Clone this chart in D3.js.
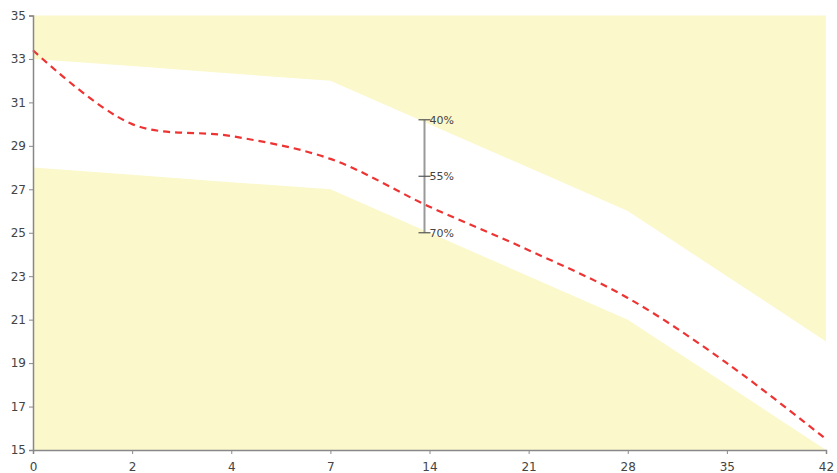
<!DOCTYPE html>
<html>
<head>
<meta charset="utf-8">
<script src="https://cdn.jsdelivr.net/npm/d3@7"></script>
<style>
  html, body { margin: 0; padding: 0; background: #fff; }
  svg { display: block; }
  text { font-family: "DejaVu Sans", Verdana, sans-serif; }
</style>
</head>
<body>
<svg id="chart" width="837" height="473"></svg>
<script>
const categories = ["0", "2", "4", "7", "14", "21", "28", "35", "42"];
const upperBand = [33, 32.67, 32.33, 32, 30, 28, 26, 23, 20];
const lowerBand = [28, 27.67, 27.33, 27, 25, 23, 21, 18, 15];
const redLine   = [33.4, 30.0, 29.45, 28.4, 26.2, 24.2, 22.0, 19.0, 15.5];
const yTicks = [15, 17, 19, 21, 23, 25, 27, 29, 31, 33, 35];
const barCategory = "14";
const barPoints = [30.2, 27.6, 25.0];
const barLabels = ["40%", "55%", "70%"];

(function () {
const svg = d3.select("#chart");
const mLeft = 33, mRight = 826, mTop = 15.5, mBottom = 450;
const x = d3.scalePoint().domain(categories).range([mLeft, mRight]);
const y = d3.scaleLinear().domain([15, 35]).range([mBottom, mTop]);
const font = "'DejaVu Sans', Verdana, sans-serif";

const yellow = "#FBF8CB";
svg.append("rect").attr("x", mLeft).attr("y", mTop)
  .attr("width", mRight - mLeft).attr("height", mBottom - mTop).attr("fill", yellow);

const band = d3.area()
  .x((d, i) => x(categories[i]))
  .y0((d, i) => y(lowerBand[i]))
  .y1((d, i) => y(upperBand[i]));
svg.append("path").datum(upperBand).attr("d", band).attr("fill", "#fff");

const line = d3.line()
  .x((d, i) => x(categories[i]))
  .y(d => y(d))
  .curve(d3.curveCatmullRom.alpha(0.5));
svg.append("path").datum(redLine).attr("d", line)
  .attr("fill", "none").attr("stroke", "#EE3333")
  .attr("stroke-width", 2.2).attr("stroke-dasharray", "7,5");

const bx = x(barCategory) - 5;
svg.append("line").attr("x1", bx).attr("x2", bx)
  .attr("y1", y(barPoints[0])).attr("y2", y(barPoints[2]))
  .attr("stroke", "#999").attr("stroke-width", 2);
barPoints.forEach((v, i) => {
  svg.append("line").attr("x1", bx - 6).attr("x2", bx + 6)
    .attr("y1", y(v)).attr("y2", y(v))
    .attr("stroke", "#555").attr("stroke-width", 1.2);
  svg.append("text").attr("x", bx + 5).attr("y", y(v) + 4)
    .attr("font-size", 11).attr("font-family", font).attr("fill", "#444").text(barLabels[i]);
});

const axisColor = "#888";
const yAxis = svg.append("g").attr("transform", `translate(${mLeft},0)`)
  .call(d3.axisLeft(y).tickValues(yTicks).tickSize(4).tickPadding(3).tickFormat(d3.format("d")));
const xAxis = svg.append("g").attr("transform", `translate(0,${mBottom})`)
  .call(d3.axisBottom(x).tickSize(4).tickPadding(8));
[yAxis, xAxis].forEach(g => {
  g.select(".domain").attr("stroke", axisColor).attr("stroke-width", 1.5);
  g.selectAll(".tick line").attr("stroke", axisColor);
  g.selectAll(".tick text").attr("fill", "#444").attr("font-size", 12)
    .attr("font-family", font);
});
})();
</script>
</body>
</html>
